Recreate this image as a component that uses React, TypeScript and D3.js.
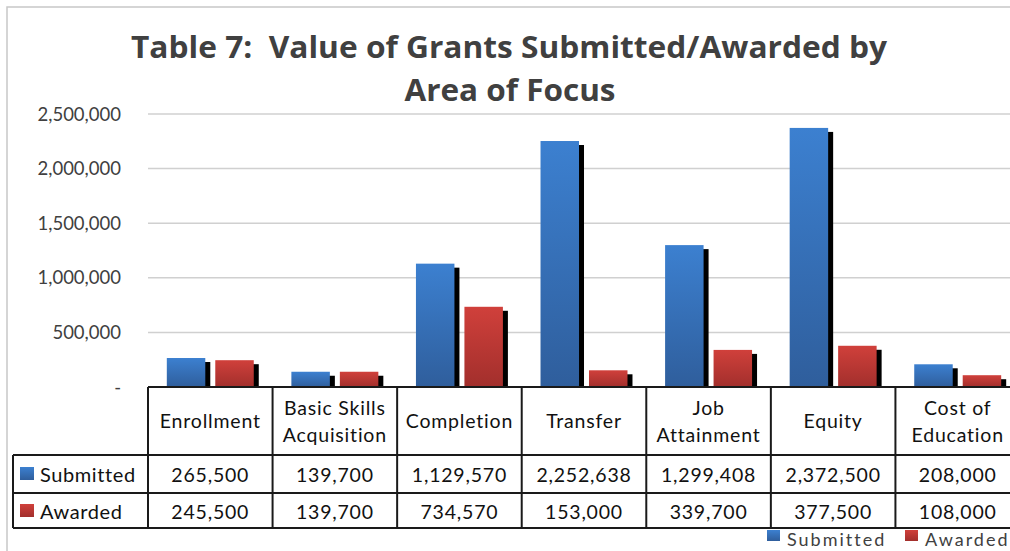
import React from "react";
import * as d3 from "d3";

const categories = ["Enrollment", "Basic Skills Acquisition", "Completion", "Transfer", "Job Attainment", "Equity", "Cost of Education"];
const categoryLines = [["Enrollment"], ["Basic Skills", "Acquisition"], ["Completion"], ["Transfer"], ["Job", "Attainment"], ["Equity"], ["Cost of", "Education"]];
const submitted = [265500, 139700, 1129570, 2252638, 1299408, 2372500, 208000];
const awarded = [245500, 139700, 734570, 153000, 339700, 377500, 108000];
const seriesNames = ["Submitted", "Awarded"];
const yTicks = [0, 500000, 1000000, 1500000, 2000000, 2500000];

const W = 1010, H = 551;
const plotLeft = 148, plotRight = 1020, plotTop = 114, plotBottom = 387;
const rowHeader = 455, rowSub = 493, rowAwd = 528;
const legendLeft = 13;
const colors: Record<string, [string, string]> = {
  Submitted: ["#3c80d0", "#2f5e9c"],
  Awarded: ["#d0403b", "#a22f2c"],
};
const font = "Lato, 'Open Sans', sans-serif";

export default function App() {
  const x = d3.scaleBand<string>().domain(categories).range([plotLeft, plotRight]).paddingInner(0).paddingOuter(0);
  const bw = x.bandwidth();
  const xs = d3.scaleBand<string>().domain(seriesNames).range([0, bw]).paddingInner(0.206).paddingOuter(0.388);
  const y = d3.scaleLinear().domain([0, 2500000]).range([plotBottom, plotTop]);
  const fmt = d3.format(",");
  const data: Record<string, number[]> = { Submitted: submitted, Awarded: awarded };

  return (
    <svg width={W} height={H} style={{ position: "absolute", left: 0, top: 0, background: "#fff" }} fontFamily={font}>
      <defs>
        {seriesNames.map((s) => (
          <linearGradient key={s} id={"g" + s} x1="0" y1="0" x2="0" y2="1">
            <stop offset="0" stopColor={colors[s][0]} />
            <stop offset="1" stopColor={colors[s][1]} />
          </linearGradient>
        ))}
      </defs>
      <rect x={7} y={7} width={W} height={H} fill="#fff" stroke="#c8c8c8" strokeWidth={1.5} />
      <text x={509} y={58} textAnchor="middle" fontSize={31} fontWeight="bold" fill="#404040" fontFamily="'Open Sans', sans-serif" textLength={756} lengthAdjust="spacingAndGlyphs" style={{ whiteSpace: "pre" }}>
        {"Table 7:  Value of Grants Submitted/Awarded by"}
      </text>
      <text x={510} y={101} textAnchor="middle" fontSize={31} fontWeight="bold" fill="#404040" fontFamily="'Open Sans', sans-serif" textLength={211} lengthAdjust="spacingAndGlyphs">
        Area of Focus
      </text>
      {yTicks.map((t) => (
        <g key={t}>
          {t > 0 && <line x1={plotLeft} x2={plotRight} y1={y(t)} y2={y(t)} stroke="#d0d0d0" strokeWidth={1.5} />}
          <text x={121} y={y(t) + 6.5} textAnchor="end" fontSize={18.5} fill="#404040">
            {t === 0 ? "-" : fmt(t)}
          </text>
        </g>
      ))}
      {categories.map((c, i) => (
        <g key={c} transform={`translate(${x(c)},0)`}>
          {seriesNames.map((s) => {
            const v = data[s][i];
            const bx = xs(s)!;
            const top = y(v);
            const h = plotBottom - top;
            return (
              <g key={s}>
                <rect x={bx + 5} y={top + 4} width={xs.bandwidth()} height={Math.max(0, h - 4)} fill="#000" />
                <rect x={bx} y={top} width={xs.bandwidth()} height={h} fill={`url(#g${s})`} />
              </g>
            );
          })}
        </g>
      ))}
      {/* data table */}
      <g stroke="#1a1a1a" strokeWidth={2} fill="none">
        <line x1={plotLeft} x2={plotRight} y1={plotBottom} y2={plotBottom} />
        <line x1={legendLeft} x2={plotRight} y1={rowHeader} y2={rowHeader} />
        <line x1={legendLeft} x2={plotRight} y1={rowSub} y2={rowSub} />
        <line x1={legendLeft} x2={plotRight} y1={rowAwd} y2={rowAwd} />
        <line x1={legendLeft} x2={legendLeft} y1={rowHeader} y2={rowAwd} />
        {categories.map((c) => (
          <line key={c} x1={x(c)!} x2={x(c)!} y1={plotBottom} y2={rowAwd} />
        ))}
      </g>
      {categories.map((c, i) => {
        const cx = x(c)! + bw / 2;
        const lines = categoryLines[i];
        return (
          <g key={c} fontSize={19.5} fill="#111" textAnchor="middle" letterSpacing={0.8}>
            {lines.length === 1 ? (
              <text x={cx} y={428}>{lines[0]}</text>
            ) : (
              <>
                <text x={cx} y={415}>{lines[0]}</text>
                <text x={cx} y={442}>{lines[1]}</text>
              </>
            )}
            <text x={cx} y={482}>{fmt(submitted[i])}</text>
            <text x={cx} y={519}>{fmt(awarded[i])}</text>
          </g>
        );
      })}
      {seriesNames.map((s, k) => {
        const ry = k === 0 ? 474 : 511;
        return (
          <g key={s}>
            <rect x={20} y={ry - 7} width={14} height={13} fill={`url(#g${s})`} />
            <text x={40} y={ry + 8} fontSize={20} fill="#111" letterSpacing={0.6}>{s}</text>
          </g>
        );
      })}
      {/* bottom legend */}
      {seriesNames.map((s, k) => {
        const lx = k === 0 ? 767 : 905;
        return (
          <g key={s}>
            <rect x={lx} y={530} width={13} height={11} fill={`url(#g${s})`} />
            <text x={lx + 20} y={546} fontSize={18} fill="#404040" letterSpacing={2}>{s}</text>
          </g>
        );
      })}
    </svg>
  );
}
